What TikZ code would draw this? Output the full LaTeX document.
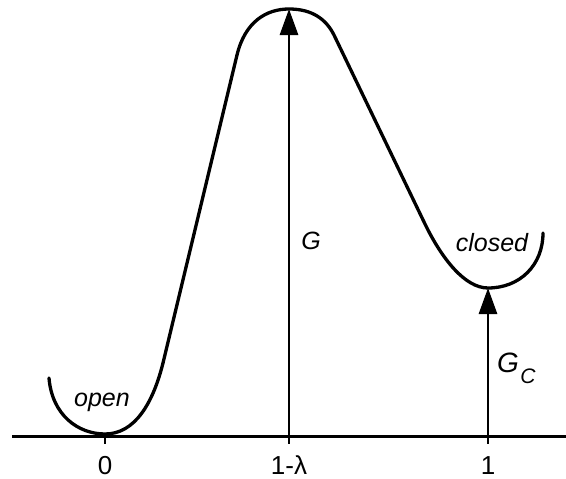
\documentclass[tikz,border=0pt]{standalone}
\usepackage{fontspec}
\setmainfont{Liberation Sans}
\usetikzlibrary{arrows.meta}
\begin{document}
\begin{tikzpicture}[x=1pt,y=-1pt,
  curve/.style={line width=3.3pt,line cap=round},
  axisline/.style={line width=3pt},
  arr/.style={line width=2.8pt,-{Triangle[length=26pt,width=18pt]}},
  lbl/.style={font=\fontsize{26}{28}\selectfont,inner sep=0pt,anchor=base},
  itl/.style={font=\fontsize{25}{28}\selectfont\itshape,inner sep=0pt}]
\useasboundingbox (0,0) rectangle (566,479);
% axis
\coordinate (axL) at (12,436);
\coordinate (axR) at (566,436);
\draw[axisline] (axL) -- (axR);
\coordinate (t0) at (105,436);
\coordinate (tl) at (289,436);
\coordinate (t1) at (488,436);
\foreach \c in {t0,tl,t1} \draw[line width=2.8pt] (\c) -- ++(0,8);
\node[lbl] (l0) at (105,474) {0};
\node[lbl] (ll) at (289,474) {1-λ};
\node[lbl] (l1) at (488,474) {1};
% energy curve
\coordinate (top) at (289,9);
\coordinate (cmin) at (488,288);
\draw[curve] (49,378) .. controls (52,415) and (78,434) .. (105,434)
  .. controls (135,434) and (153,403) .. (163,363)
  -- (237,55)
  .. controls (245,22) and (266,9) .. (top)
  .. controls (312,9) and (326,19) .. (334,35)
  -- (425,224)
  .. controls (442,259) and (465,288) .. (cmin)
  .. controls (520,288) and (543,265) .. (543,233);
% arrows
\draw[arr] (tl) -- (top);
\draw[arr] (t1) -- (cmin);
% labels
\node[itl] (open) at (102,402) {open};
\node[itl] (closed) at (492,243) {closed};
\node[itl] (G) at (311,241) {G};
\node[itl,font=\fontsize{28}{30}\selectfont\itshape] (GC) at (508,363) {G};
\node[itl,font=\fontsize{21}{24}\selectfont\itshape] (GCs) at (528,376) {C};
\end{tikzpicture}
\end{document}
